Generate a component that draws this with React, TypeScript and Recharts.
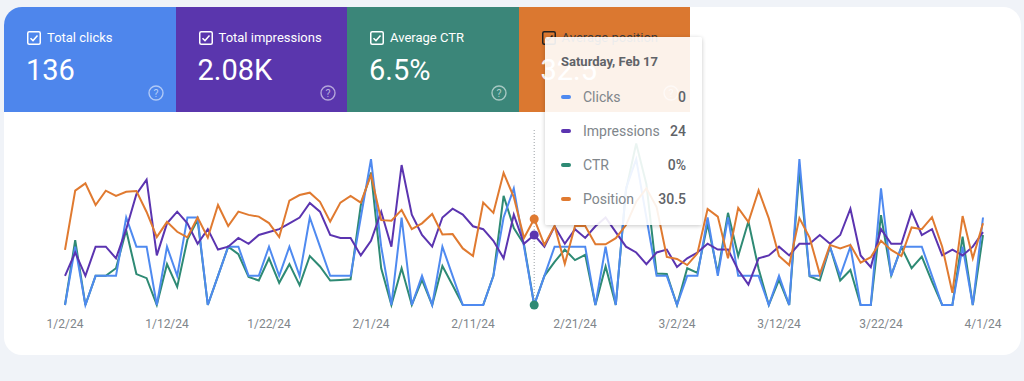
import React from "react";
import { LineChart, Line, XAxis, YAxis, Tooltip } from "recharts";

const BLUE = "#4f8af0";
const PURPLE = "#5b34b0";
const GREEN = "#2e8a74";
const ORANGE = "#e07a30";

// 1/2/24 .. 4/1/24, one point per day
const DATES: string[] = [];
for (let i = 0; i < 91; i++) {
  const d = new Date(2024, 0, 2 + i);
  DATES.push(`${d.getMonth() + 1}/${d.getDate()}/24`);
}

const TICKS = ["1/2/24", "1/12/24", "1/22/24", "2/1/24", "2/11/24", "2/21/24", "3/2/24", "3/12/24", "3/22/24", "4/1/24"];

const CLICKS = [
  0, 2, 0, 1, 1, 1, 3, 2, 2, 0,
  2, 1, 3, 3, 0, 1, 2, 2, 1, 1,
  2, 1, 2, 1, 3, 2, 1, 1, 1, 3,
  5, 2, 0, 3, 0, 1, 0, 2, 1, 0,
  0, 0, 1, 3, 4, 2, 0, 1, 2, 2,
  2, 2, 0, 2, 0, 4, 5, 3, 1, 1,
  0, 1, 1, 3, 1, 3, 1, 1, 1, 0,
  1, 0, 5, 1, 1, 2, 1, 2, 0, 0,
  4, 1, 2, 2, 2, 1, 0, 0, 2, 0,
  3,
];

const IMPRESSIONS = [
  10, 18, 10, 20, 20, 16, 26, 38, 43, 17,
  28, 32, 28, 21, 26, 19, 20, 23, 21, 24,
  25, 26, 28, 30, 35, 32, 24, 23, 23, 17,
  22, 32, 20, 48, 31, 24, 20, 30, 33, 31,
  27, 26, 22, 16, 31, 21, 24, 20, 27, 21,
  26, 23, 27, 30, 25, 20, 18, 14, 18, 19,
  13, 16, 18, 21, 19, 19, 12, 7, 16, 17,
  20, 17, 21, 21, 24, 21, 24, 33, 17, 13,
  26, 21, 21, 32, 24, 26, 17, 19, 17, 20,
  25,
];

const CTR = [
  0, 11.1, 0, 5.0, 5.0, 6.3, 12.8, 5.3, 4.6, 0,
  7.0, 3.1, 11.2, 14.6, 0, 5.0, 10.0, 8.7, 4.8, 4.2,
  8.0, 3.8, 7.0, 3.4, 8.4, 6.6, 4.2, 4.3, 4.4, 17.1,
  22.7, 6.3, 0, 6.3, 0, 4.3, 0, 6.7, 3.4, 0,
  0, 0, 5.0, 18.7, 13.2, 10.4, 0, 5.0, 7.4, 9.5,
  7.7, 8.6, 0, 6.6, 0, 19.7, 27.7, 20.7, 5.4, 5.3,
  0, 6.3, 5.5, 13.9, 5.5, 15.8, 8.4, 14.3, 6.2, 0,
  4.3, 0, 23.1, 4.9, 4.2, 10.0, 4.2, 6.0, 0, 0,
  15.4, 5.1, 9.9, 6.3, 8.3, 4.0, 0, 0, 11.7, 0,
  12.0,
];

const POSITION = [
  41.1, 20.8, 18.3, 25.7, 20.8, 22.6, 21.2, 20.9, 28.1, 36.7,
  31.5, 34.9, 36.8, 30.0, 36.9, 25.7, 32.9, 28.0, 29.1, 29.7,
  31.9, 36.7, 24.2, 22.3, 21.5, 24.6, 31.4, 24.9, 22.6, 24.9,
  15.4, 30.9, 31.1, 27.4, 34.0, 32.0, 28.8, 35.8, 35.7, 40.6,
  43.2, 24.9, 28.4, 14.7, 23.0, 37.0, 30.5, 39.4, 32.9, 45.9,
  32.9, 32.9, 39.2, 39.2, 37.1, 32.6, 24.6, 20.0, 26.4, 43.5,
  44.2, 46.3, 42.3, 27.1, 29.7, 44.0, 26.7, 31.6, 20.7, 30.3,
  43.2, 46.3, 30.2, 36.9, 49.4, 39.4, 40.6, 39.4, 45.5, 43.6,
  38.0, 41.1, 43.2, 33.4, 34.0, 29.9, 40.0, 55.8, 29.5, 44.0,
  32.0,
];

const CARDS = [
  { label: "Total clicks", value: "136", bg: "#4e86ec" },
  { label: "Total impressions", value: "2.08K", bg: "#5a36ad" },
  { label: "Average CTR", value: "6.5%", bg: "#3b8679" },
  { label: "Average position", value: "32.5", bg: "#db7830" },
];

const data = DATES.map((date, i) => ({
  date,
  clicks: CLICKS[i],
  impressions: IMPRESSIONS[i],
  ctr: CTR[i],
  position: POSITION[i],
}));

const DAYS = ["Sunday", "Monday", "Tuesday", "Wednesday", "Thursday", "Friday", "Saturday"];
const MONTHS = ["Jan", "Feb", "Mar", "Apr"];

const FONT = "Roboto, 'Noto Sans', sans-serif";

function Checkbox({ dark }: { dark?: boolean }) {
  const c = dark ? "#222" : "#fff";
  return (
    <svg width="14" height="14" viewBox="0 0 14 14" style={{ display: "block" }}>
      <rect x="0.75" y="0.75" width="12.5" height="12.5" rx="1.5" fill="none" stroke={c} strokeWidth="1.5" />
      <path d="M3.5 7.2 L6 9.6 L10.5 4.6" fill="none" stroke={c} strokeWidth="1.5" />
    </svg>
  );
}

function Help() {
  return (
    <svg width="16" height="16" viewBox="0 0 16 16">
      <circle cx="8" cy="8" r="7" fill="none" stroke="rgba(255,255,255,0.55)" strokeWidth="1.4" />
      <text x="8" y="11.6" textAnchor="middle" fontSize="10.5" fill="rgba(255,255,255,0.6)" fontFamily={FONT}>?</text>
    </svg>
  );
}

function TipContent({ active, payload }: any) {
  if (!active || !payload || !payload.length) return null;
  const row = payload[0].payload;
  const [m, d] = row.date.split("/").map(Number);
  const dt = new Date(2024, m - 1, d);
  const title = `${DAYS[dt.getDay()]}, ${MONTHS[m - 1]} ${d}`;
  const rows = [
    { name: "Clicks", color: BLUE, v: `${row.clicks}` },
    { name: "Impressions", color: PURPLE, v: `${row.impressions}` },
    { name: "CTR", color: GREEN, v: `${row.ctr}%` },
    { name: "Position", color: ORANGE, v: `${row.position}` },
  ];
  return (
    <div
      style={{
        width: 157,
        height: 188,
        boxSizing: "border-box",
        background: "rgba(255,255,255,0.9)",
        boxShadow: "0 1px 4px rgba(0,0,0,0.22)",
        borderRadius: 2,
        padding: "17px 16px 0 16px",
        fontFamily: FONT,
      }}
    >
      <div style={{ fontSize: 13, fontWeight: 700, color: "#5f6368", lineHeight: "16px" }}>{title}</div>
      <div style={{ marginTop: 10 }}>
        {rows.map((r) => (
          <div key={r.name} style={{ display: "flex", alignItems: "center", height: 34 }}>
            <span style={{ width: 10, height: 4, borderRadius: 2, background: r.color, marginRight: 12 }} />
            <span style={{ flex: 1, fontSize: 14, color: "#80868b" }}>{r.name}</span>
            <span style={{ fontSize: 14, color: "#5f6368", fontWeight: 500 }}>{r.v}</span>
          </div>
        ))}
      </div>
    </div>
  );
}

export default function App() {
  return (
    <div style={{ position: "relative", width: 1024, height: 381, background: "#f0f3f8", overflow: "hidden", fontFamily: FONT }}>
      <style>{`body{margin:0}`}</style>
      <div
        style={{
          position: "absolute",
          left: 4,
          top: 7,
          width: 1017,
          height: 348,
          background: "#fff",
          borderRadius: 18,
          overflow: "hidden",
        }}
      >
        {CARDS.map((c, i) => (
          <div
            key={c.label}
            style={{
              position: "absolute",
              left: i * 171.5,
              top: 0,
              width: 171.5,
              height: 105,
              background: c.bg,
              color: "#fff",
            }}
          >
            <div style={{ position: "absolute", left: 23, top: 24 }}>
              <Checkbox dark={i === 3} />
            </div>
            <div
              style={{
                position: "absolute",
                left: 43,
                top: 22,
                fontSize: 13,
                lineHeight: "17px",
                color: i === 3 ? "#3a3a3a" : "#fff",
              }}
            >
              {c.label}
            </div>
            <div style={{ position: "absolute", left: 22, top: 46, fontSize: 29, lineHeight: "34px", fontWeight: 400 }}>
              {c.value}
            </div>
            <div style={{ position: "absolute", left: 144, top: 78 }}>
              <Help />
            </div>
          </div>
        ))}
      </div>
      <div style={{ position: "absolute", left: 0, top: 0 }}>
        <LineChart width={1024} height={381} data={data} margin={{ top: 130, right: 41, left: 65, bottom: 46 }}>
          <XAxis
            dataKey="date"
            ticks={TICKS}
            interval={0}
            height={30}
            axisLine={false}
            tickLine={false}
            tickMargin={8}
            tick={{ fill: "#80868b", fontSize: 12, fontFamily: FONT }}
          />
          <YAxis yAxisId="clicks" hide domain={[0, 6]} />
          <YAxis yAxisId="impressions" hide domain={[0, 60]} />
          <YAxis yAxisId="ctr" hide domain={[0, 30]} />
          <YAxis yAxisId="position" hide domain={[0, 60]} reversed />
          <Tooltip
            content={<TipContent />}
            defaultIndex={46}
            active
            position={{ x: 545, y: 37 }}
            allowEscapeViewBox={{ x: true, y: true }}
            wrapperStyle={{ zIndex: 10, outline: "none" }}
            cursor={{ stroke: "#9aa0a6", strokeWidth: 1, strokeDasharray: "1 2" }}
          />
          <Line yAxisId="ctr" dataKey="ctr" type="linear" stroke={GREEN} strokeWidth={2} dot={false}
            activeDot={{ r: 4.5, strokeWidth: 0, fill: GREEN }} isAnimationActive={false} />
          <Line yAxisId="clicks" dataKey="clicks" type="linear" stroke={BLUE} strokeWidth={2} dot={false}
            activeDot={false} isAnimationActive={false} />
          <Line yAxisId="impressions" dataKey="impressions" type="linear" stroke={PURPLE} strokeWidth={2} dot={false}
            activeDot={{ r: 4.5, strokeWidth: 0, fill: PURPLE }} isAnimationActive={false} />
          <Line yAxisId="position" dataKey="position" type="linear" stroke={ORANGE} strokeWidth={2} dot={false}
            activeDot={{ r: 4.5, strokeWidth: 0, fill: ORANGE }} isAnimationActive={false} />
        </LineChart>
      </div>
    </div>
  );
}
